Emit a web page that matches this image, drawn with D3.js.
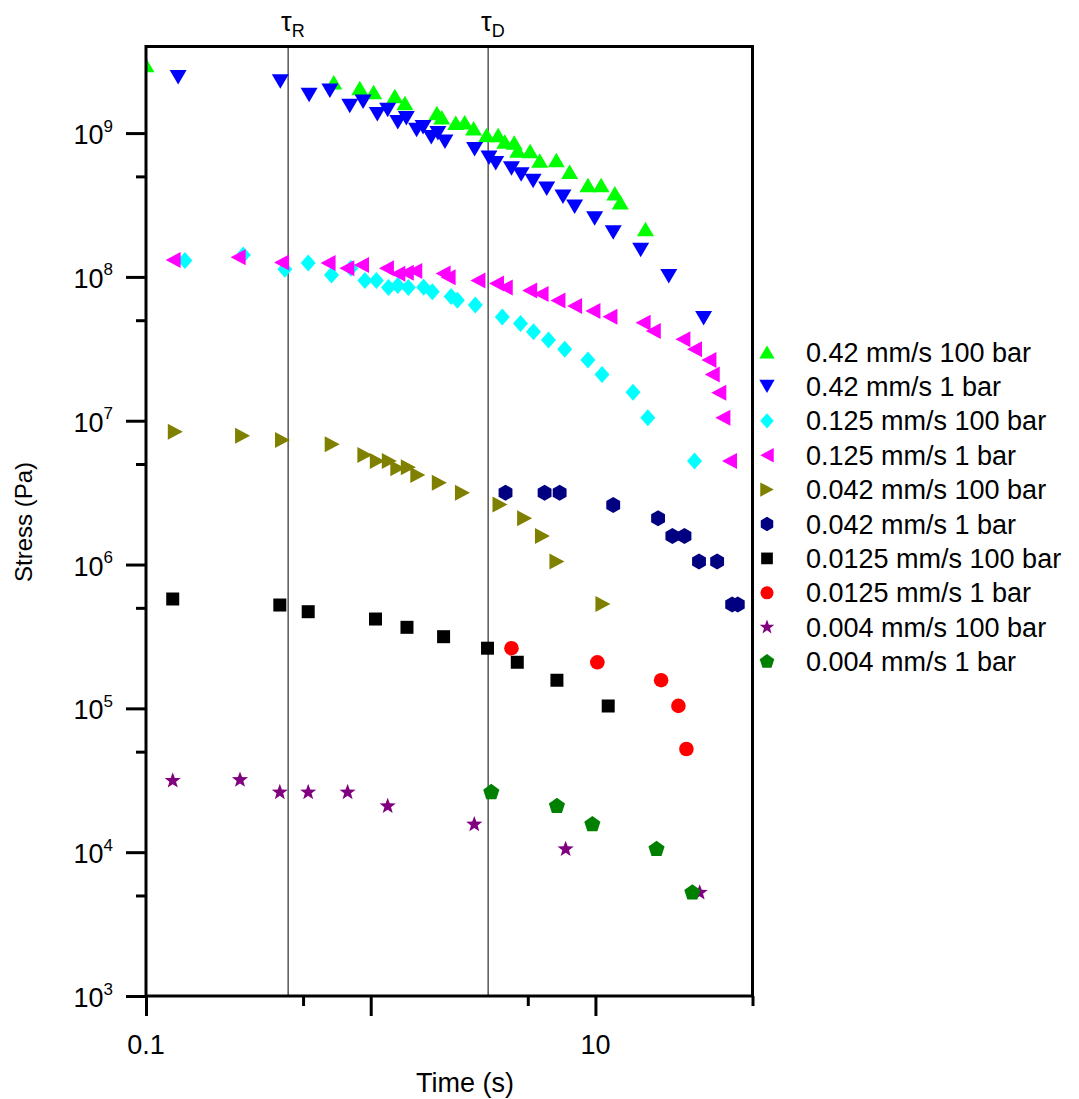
<!DOCTYPE html>
<html>
<head>
<meta charset="utf-8">
<script src="https://d3js.org/d3.v7.min.js"></script>
<style>
  html, body { margin: 0; padding: 0; background: #fff; }
  svg { display: block; }
  text { font-family: "Liberation Sans", Arial, Helvetica, sans-serif; fill: #000; }
</style>
</head>
<body>
<svg id="chart" width="1079" height="1099"></svg>
<script>
// ---------- data (time in s, stress in Pa) ----------
const seriesNames = [
  "0.42 mm/s 100 bar", "0.42 mm/s 1 bar",
  "0.125 mm/s 100 bar", "0.125 mm/s 1 bar",
  "0.042 mm/s 100 bar", "0.042 mm/s 1 bar",
  "0.0125 mm/s 100 bar", "0.0125 mm/s 1 bar",
  "0.004 mm/s 100 bar", "0.004 mm/s 1 bar"
];
const seriesColors = ["#00ff00", "#0000ff", "#00ffff", "#ff00ff", "#808000",
                      "#000080", "#000000", "#ff0000", "#800080", "#008000"];
const seriesShapes = ["up", "down", "diamond", "left", "right",
                      "hexagon", "square", "circle", "star", "pentagon"];

const t_042_100 = [0.1, 0.685, 0.894, 1.03, 1.28, 1.42, 1.97, 2.07, 2.39, 2.62, 2.87, 3.28, 3.69, 3.95, 4.35, 4.51, 5.12, 5.65, 6.70, 7.68, 9.26, 10.6, 12.2, 12.9, 16.7];
const s_042_100 = [2.97e9, 2.26e9, 2.06e9, 1.93e9, 1.81e9, 1.62e9, 1.38e9, 1.29e9, 1.18e9, 1.19e9, 1.08e9, 9.69e8, 9.69e8, 8.73e8, 8.59e8, 7.56e8, 7.50e8, 6.44e8, 6.49e8, 5.38e8, 4.35e8, 4.35e8, 3.81e8, 3.30e8, 2.15e8];

const t_042_1 = [0.139, 0.396, 0.532, 0.658, 0.807, 0.925, 1.07, 1.19, 1.32, 1.44, 1.60, 1.71, 1.86, 1.99, 2.14, 2.90, 3.36, 3.60, 4.23, 4.67, 5.28, 6.07, 7.17, 8.08, 9.92, 12.0, 15.9, 21.2, 30.3];
const s_042_1 = [2.44e9, 2.28e9, 1.84e9, 1.97e9, 1.54e9, 1.65e9, 1.35e9, 1.45e9, 1.19e9, 1.27e9, 1.05e9, 1.10e9, 9.34e8, 9.96e8, 8.70e8, 7.71e8, 6.73e8, 6.16e8, 5.68e8, 5.15e8, 4.64e8, 4.10e8, 3.61e8, 3.07e8, 2.55e8, 2.04e8, 1.54e8, 1.01e8, 5.15e7];

const t_0125_100 = [0.149, 0.271, 0.415, 0.527, 0.669, 0.816, 0.942, 1.06, 1.20, 1.32, 1.47, 1.72, 1.88, 2.28, 2.43, 2.92, 3.85, 4.64, 5.30, 6.18, 7.30, 9.26, 10.7, 14.7, 17.1, 27.6];
const s_0125_100 = [1.30e8, 1.42e8, 1.13e8, 1.25e8, 1.03e8, 1.15e8, 9.43e7, 9.43e7, 8.43e7, 8.71e7, 8.43e7, 8.46e7, 7.89e7, 7.32e7, 6.87e7, 6.37e7, 5.26e7, 4.75e7, 4.16e7, 3.64e7, 3.14e7, 2.64e7, 2.10e7, 1.575e7, 1.05e7, 5.24e6];

const t_0125_1 = [0.132, 0.257, 0.401, 0.646, 0.783, 0.910, 1.175, 1.32, 1.44, 1.57, 2.10, 2.21, 3.00, 3.63, 3.97, 5.10, 5.73, 6.81, 8.08, 9.75, 11.6, 16.3, 18.1, 24.5, 27.6, 32.0, 33.1, 35.4, 36.9, 39.5];
const s_0125_1 = [1.31e8, 1.37e8, 1.26e8, 1.25e8, 1.15e8, 1.21e8, 1.15e8, 1.05e8, 1.07e8, 1.10e8, 1.055e8, 9.93e7, 9.43e7, 8.99e7, 8.43e7, 8.04e7, 7.60e7, 6.85e7, 6.27e7, 5.79e7, 5.28e7, 4.80e7, 4.20e7, 3.68e7, 3.14e7, 2.64e7, 2.10e7, 1.565e7, 1.05e7, 5.24e6];

const t_0042_100 = [0.135, 0.269, 0.405, 0.674, 0.942, 1.07, 1.21, 1.32, 1.47, 1.62, 2.02, 2.56, 3.76, 4.84, 5.81, 6.74, 10.8];
const s_0042_100 = [8.38e6, 7.86e6, 7.34e6, 6.85e6, 5.77e6, 5.24e6, 5.24e6, 4.67e6, 4.74e6, 4.19e6, 3.71e6, 3.16e6, 2.61e6, 2.10e6, 1.58e6, 1.05e6, 5.32e5];

const t_0042_1 = [3.98, 5.94, 6.93, 12.0, 19.0, 22.0, 24.9, 28.9, 34.8, 40.6, 43.0];
const s_0042_1 = [3.16e6, 3.16e6, 3.16e6, 2.59e6, 2.10e6, 1.58e6, 1.58e6, 1.05e6, 1.05e6, 5.27e5, 5.27e5];

const t_00125_100 = [0.1315, 0.394, 0.527, 1.05, 1.45, 2.11, 3.31, 4.49, 6.74, 11.4];
const s_00125_100 = [5.76e5, 5.23e5, 4.70e5, 4.18e5, 3.66e5, 3.15e5, 2.62e5, 2.09e5, 1.57e5, 1.04e5];

const t_00125_1 = [4.23, 10.2, 19.6, 23.4, 25.4];
const s_00125_1 = [2.62e5, 2.09e5, 1.57e5, 1.04e5, 5.22e4];

const t_0004_100 = [0.1315, 0.262, 0.394, 0.527, 0.789, 1.19, 2.89, 7.37, 29.1];
const s_0004_100 = [3.14e4, 3.18e4, 2.61e4, 2.61e4, 2.61e4, 2.09e4, 1.56e4, 1.05e4, 5.23e3];

const t_0004_1 = [3.44, 6.74, 9.69, 18.7, 27.0];
const s_0004_1 = [2.61e4, 2.09e4, 1.56e4, 1.05e4, 5.23e3];

const seriesT = [t_042_100, t_042_1, t_0125_100, t_0125_1, t_0042_100, t_0042_1, t_00125_100, t_00125_1, t_0004_100, t_0004_1];
const seriesS = [s_042_100, s_042_1, s_0125_100, s_0125_1, s_0042_100, s_0042_1, s_00125_100, s_00125_1, s_0004_100, s_0004_1];

// reference lines
const refTimes = [0.429, 3.33];
const refLabels = ["R", "D"];

// axis ticks
const xDomain = [0.1, 50];
const yDomain = [1e3, 4e9];
const xMajor = [0.1, 1, 10];
const xMinor = [0.5, 5, 50];
const xLabels = [{v: 0.1, t: "0.1"}, {v: 10, t: "10"}];
const yMajor = [1e3, 1e4, 1e5, 1e6, 1e7, 1e8, 1e9];
const yMinor = [5e3, 5e4, 5e5, 5e6, 5e7, 5e8];
const yExponents = [3, 4, 5, 6, 7, 8, 9];

// ---------- layout ----------
const L = 146, R = 752.5, T = 46.5, B = 996;
const svg = d3.select("#chart");
svg.append("rect").attr("width", 1079).attr("height", 1099).attr("fill", "#fff");

const x = d3.scaleLog().domain(xDomain).range([L, R]);
const y = d3.scaleLog().domain(yDomain).range([B, T]);

// marker shapes
function shapePath(type, k) {
  const p = (pts) => "M" + pts.map(q => q[0].toFixed(2) + "," + q[1].toFixed(2)).join("L") + "Z";
  switch (type) {
    case "up": { const w = 17*k, h = 14.5*k; return p([[0,-h/2],[w/2,h/2],[-w/2,h/2]]); }
    case "down": { const w = 17*k, h = 14.5*k; return p([[0,h/2],[w/2,-h/2],[-w/2,-h/2]]); }
    case "left": { const w = 15*k, h = 16*k; return p([[-w/2,0],[w/2,-h/2],[w/2,h/2]]); }
    case "right": { const w = 15*k, h = 16*k; return p([[w/2,0],[-w/2,-h/2],[-w/2,h/2]]); }
    case "diamond": { const w = 15*k, h = 17*k; return p([[0,-h/2],[w/2,0],[0,h/2],[-w/2,0]]); }
    case "square": { const s = 13*k; return p([[-s/2,-s/2],[s/2,-s/2],[s/2,s/2],[-s/2,s/2]]); }
    case "hexagon": { const r = 8*k; return p(d3.range(6).map(i => { const a = (-90 + 60*i) * Math.PI/180; return [r*Math.cos(a), r*Math.sin(a)]; })); }
    case "pentagon": { const r = 8.5*k; return p(d3.range(5).map(i => { const a = (-90 + 72*i) * Math.PI/180; return [r*Math.cos(a), r*Math.sin(a)]; })); }
    case "star": { const ro = 8.5*k, ri = 3.5*k; return p(d3.range(10).map(i => { const r = i % 2 ? ri : ro; const a = (-90 + 36*i) * Math.PI/180; return [r*Math.cos(a), r*Math.sin(a)]; })); }
    case "circle": { const r = 7.3*k; return `M${-r},0A${r},${r} 0 1,0 ${r},0A${r},${r} 0 1,0 ${-r},0Z`; }
  }
}

// clip to plot area
svg.append("clipPath").attr("id", "plotClip")
  .append("rect").attr("x", L).attr("y", T).attr("width", R - L).attr("height", B - T);

// reference lines
const refG = svg.append("g");
refTimes.forEach((tv, i) => {
  refG.append("line")
    .attr("x1", x(tv)).attr("x2", x(tv)).attr("y1", T).attr("y2", B)
    .attr("stroke", "#000").attr("stroke-width", 1);
  const lab = refG.append("text").attr("x", x(tv) - 7).attr("y", 31)
    .attr("font-size", 27);
  lab.append("tspan").text("\u03C4");
  lab.append("tspan").attr("dy", 6).attr("font-size", 18).text(refLabels[i]);
});

// data points
const pts = svg.append("g").attr("clip-path", "url(#plotClip)");
seriesNames.forEach((name, i) => {
  const data = seriesT[i].map((t, j) => ({t, s: seriesS[i][j]}));
  pts.append("g").selectAll("path").data(data).join("path")
    .attr("d", shapePath(seriesShapes[i], 1))
    .attr("transform", d => `translate(${x(d.t)},${y(d.s)})`)
    .attr("fill", seriesColors[i]);
});

// axes
function styleAxis(g) {
  g.select(".domain").remove();
  g.selectAll(".tick line").attr("stroke", "#000").attr("stroke-width", 3);
}
svg.append("g").attr("transform", `translate(${L},0)`)
  .call(d3.axisLeft(y).tickValues(yMajor).tickSize(20).tickFormat(""))
  .call(styleAxis);
svg.append("g").attr("transform", `translate(${L},0)`)
  .call(d3.axisLeft(y).tickValues(yMinor).tickSize(10).tickFormat(""))
  .call(styleAxis);
svg.append("g").attr("transform", `translate(0,${B})`)
  .call(d3.axisBottom(x).tickValues(xMajor).tickSize(20).tickFormat(""))
  .call(styleAxis);
svg.append("g").attr("transform", `translate(0,${B})`)
  .call(d3.axisBottom(x).tickValues(xMinor).tickSize(10).tickFormat(""))
  .call(styleAxis);

// frame
svg.append("rect").attr("x", L).attr("y", T).attr("width", R - L).attr("height", B - T)
  .attr("fill", "none").attr("stroke", "#000").attr("stroke-width", 3);

// y tick labels 10^n
yMajor.forEach((v, i) => {
  const tx = svg.append("text").attr("x", 113).attr("y", y(v) + 11)
    .attr("text-anchor", "end").attr("font-size", 27);
  tx.append("tspan").text("10");
  tx.append("tspan").attr("dy", -12.5).attr("font-size", 17).text(yExponents[i]);
});

// x tick labels
svg.selectAll(".xlab").data(xLabels).join("text")
  .attr("class", "xlab")
  .attr("x", d => x(d.v)).attr("y", 1054)
  .attr("text-anchor", "middle").attr("font-size", 27)
  .text(d => d.t);

// axis titles
svg.append("text").attr("x", 465).attr("y", 1092).attr("text-anchor", "middle")
  .attr("font-size", 27).text("Time (s)");
svg.append("text").attr("transform", "translate(32,522) rotate(-90)")
  .attr("text-anchor", "middle").attr("font-size", 24).text("Stress (Pa)");

// legend
const lg = svg.append("g");
seriesNames.forEach((name, i) => {
  const cy = 352 + i * 34.4;
  lg.append("path").attr("d", shapePath(seriesShapes[i], 0.9))
    .attr("transform", `translate(767,${cy})`).attr("fill", seriesColors[i]);
  lg.append("text").attr("x", 806).attr("y", cy + 9.5).attr("font-size", 27).text(name);
});
</script>
</body>
</html>
